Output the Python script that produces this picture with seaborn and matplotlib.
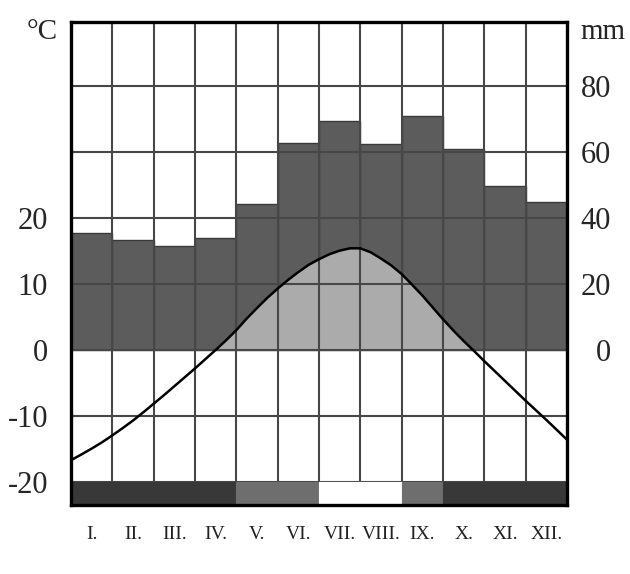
import numpy as np
import pandas as pd
import matplotlib
matplotlib.use("Agg")
import matplotlib.pyplot as plt
import seaborn as sns

# ---- data ----
months = ["I.", "II.", "III.", "IV.", "V.", "VI.", "VII.", "VIII.", "IX.", "X.", "XI.", "XII."]
precip_mm = [35.5, 33.3, 31.5, 33.9, 44.2, 62.7, 69.4, 62.4, 70.9, 60.9, 49.7, 44.8]
# temperature curve every quarter month (months elapsed since 1 Jan)
temp_t = [0.00, 0.25, 0.50, 0.75, 1.00, 1.25, 1.50, 1.75, 2.00, 2.25, 2.50, 2.75,
          3.00, 3.25, 3.50, 3.75, 4.00, 4.25, 4.50, 4.75, 5.00, 5.25, 5.50, 5.75,
          6.00, 6.25, 6.50, 6.75, 7.00, 7.25, 7.50, 7.75, 8.00, 8.25, 8.50, 8.75,
          9.00, 9.25, 9.50, 9.75, 10.00, 10.25, 10.50, 10.75, 11.00, 11.25, 11.50, 11.75, 12.00]
temp_c = [-16.7, -15.85, -14.95, -14.0, -12.95, -11.85, -10.7, -9.45, -8.15, -6.85, -5.5, -4.15,
          -2.8, -1.4, 0.0, 1.45, 3.0, 4.75, 6.35, 7.9, 9.3, 10.6, 11.8, 12.9,
          13.75, 14.5, 15.05, 15.4, 15.4, 14.8, 13.85, 12.8, 11.5, 9.9, 8.25, 6.45,
          4.65, 2.95, 1.35, -0.15, -1.7, -3.2, -4.7, -6.2, -7.7, -9.15, -10.6, -12.1, -13.6]
frost = ["abs", "abs", "abs", "abs", "prob", "prob", "none", "none", "prob", "abs", "abs", "abs"]
temp_ticks = [-20, -10, 0, 10, 20]
mm_ticks = [0, 20, 40, 60, 80]

sns.set_theme(style="white")
plt.rcParams["font.family"] = ["Liberation Serif", "DejaVu Serif"]

BAR = "#5c5c5c"
FILL = "#ababab"
GRID = "#474747"
frost_col = {"abs": "#383838", "prob": "#6e6e6e", "none": "#ffffff"}

fig = plt.figure(figsize=(6.3, 5.74), dpi=100)
ax = fig.add_axes([71 / 630, 1 - 505 / 574, 496 / 630, 483 / 574])
ax2 = ax.twinx()

ylo, yhi = -23.5, 49.7
ax.set_ylim(ylo, yhi)
ax2.set_ylim(2 * ylo, 2 * yhi)

# precipitation bars (right axis, mm)
df = pd.DataFrame({"month": months, "mm": precip_mm})
sns.barplot(data=df, x="month", y="mm", order=months, ax=ax2, color=BAR,
            saturation=1, width=1.0, edgecolor="#3a3a3a", linewidth=1.0)
ax2.set_xlabel("")
ax2.set_ylabel("")

ax.set_zorder(ax2.get_zorder() + 1)
ax.patch.set_visible(False)
ax2.patch.set_facecolor("white")

# temperature (left axis, °C)
tx = np.array(temp_t) - 0.5
ty = np.array(temp_c)
ax.fill_between(tx, ty, 0, where=ty > 0, interpolate=True, color=FILL, lw=0, zorder=1)
sns.lineplot(x=tx, y=ty, ax=ax, color="black", lw=1.8, zorder=4, sort=False)

# frost strip
for i, f in enumerate(frost):
    ax.bar(i, -20 - ylo, bottom=ylo, width=1.0, color=frost_col[f],
           edgecolor=frost_col[f], lw=0.8, zorder=5)

# grid
ax.hlines([-20, -10, 0, 10, 20, 30, 40], -0.5, 11.5, color=GRID, lw=1.5, zorder=3)
ax.vlines(np.arange(0.5, 11.5, 1.0), -20, yhi, color=GRID, lw=1.5, zorder=3)

ax.set_xlim(-0.5, 11.5)
ax2.set_xlim(-0.5, 11.5)
ax.set_xticks(range(12))
ax.set_xticklabels(months, fontsize=14, color="#222222")
ax.tick_params(axis="x", length=0, pad=15)

ax.set_yticks(temp_ticks)
ax.set_yticklabels([str(v) for v in temp_ticks], fontsize=22)
ax.tick_params(axis="y", length=0, pad=16.5)

ax2.set_yticks(mm_ticks)
ax2.set_yticklabels([str(v) for v in mm_ticks], fontsize=22)
ax2.tick_params(axis="y", length=0, pad=31.5)
plt.setp(ax2.get_yticklabels(), ha="right")

for s in ax2.spines.values():
    s.set_visible(False)
for s in ax.spines.values():
    s.set_visible(True)
    s.set_color("black")
    s.set_linewidth(2.4)
    s.set_zorder(6)

fig.text(42 / 630, 1 - 32 / 574, "°C", fontsize=21, ha="center", va="center")
fig.text(603 / 630, 1 - 32 / 574, "mm", fontsize=21, ha="center", va="center")

fig.savefig("out.png", dpi=100, facecolor="white")
